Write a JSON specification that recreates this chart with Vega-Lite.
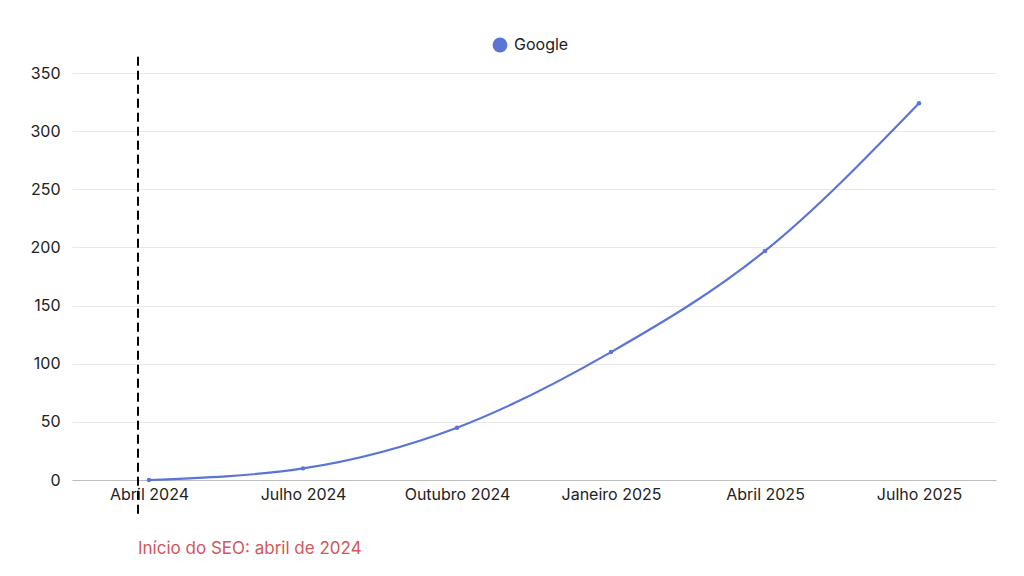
{
  "$schema": "https://vega.github.io/schema/vega-lite/v6.json",
  "width": 924,
  "height": 407,
  "autosize": {"type": "none"},
  "padding": {"left": 72, "top": 73, "right": 28, "bottom": 96},
  "background": "white",
  "config": {
    "font": "Inter",
    "view": {"stroke": null},
    "axis": {"labelFont": "Inter", "labelFontSize": 16, "labelColor": "#222222", "ticks": false, "title": null}
  },
  "datasets": {
    "series": [
      {"mes": "Abril 2024", "serie": "Google", "valor": 0},
      {"mes": "Julho 2024", "serie": "Google", "valor": 10},
      {"mes": "Outubro 2024", "serie": "Google", "valor": 45},
      {"mes": "Janeiro 2025", "serie": "Google", "valor": 110},
      {"mes": "Abril 2025", "serie": "Google", "valor": 197},
      {"mes": "Julho 2025", "serie": "Google", "valor": 324}
    ],
    "marco": [
      {"mes": "Abril 2024", "topo": 364, "base": -33, "texto_y": -59.5, "rotulo": "Início do SEO: abril de 2024"}
    ]
  },
  "encoding": {
    "x": {
      "field": "mes", "type": "ordinal",
      "sort": ["Abril 2024", "Julho 2024", "Outubro 2024", "Janeiro 2025", "Abril 2025", "Julho 2025"],
      "scale": {"type": "point", "padding": 0.5},
      "axis": {"labelAngle": 0, "grid": false, "domainColor": "#bdbdbd", "domainWidth": 1, "labelPadding": 6}
    }
  },
  "layer": [
    {
      "data": {"name": "series"},
      "mark": {"type": "line", "interpolate": "monotone", "strokeWidth": 2.2, "point": {"filled": true, "size": 20}},
      "encoding": {
        "y": {
          "field": "valor", "type": "quantitative",
          "scale": {"domain": [0, 350], "nice": false},
          "axis": {"values": [0, 50, 100, 150, 200, 250, 300, 350], "domain": false, "gridColor": "#e8e8e8", "labelPadding": 12}
        },
        "color": {
          "field": "serie", "type": "nominal",
          "scale": {"range": ["#5a74d8"]},
          "legend": {"title": null, "orient": "none", "legendX": 420, "legendY": -36, "direction": "horizontal", "symbolType": "circle", "symbolSize": 220, "symbolFillColor": "#4f6ff5", "symbolStrokeWidth": 0, "labelFontSize": 16, "labelColor": "#222222", "labelFont": "Inter", "labelOffset": 6}
        }
      }
    },
    {
      "data": {"name": "marco"},
      "mark": {"type": "rule", "stroke": "#000000", "strokeWidth": 2, "strokeDash": [9, 5], "xOffset": -11},
      "encoding": {
        "y": {"field": "topo", "type": "quantitative"},
        "y2": {"field": "base"}
      }
    },
    {
      "data": {"name": "marco"},
      "mark": {"type": "text", "align": "left", "baseline": "middle", "color": "#d0585a", "fontSize": 17, "font": "Inter", "xOffset": -11},
      "encoding": {
        "y": {"field": "texto_y", "type": "quantitative"},
        "text": {"field": "rotulo"}
      }
    }
  ]
}
